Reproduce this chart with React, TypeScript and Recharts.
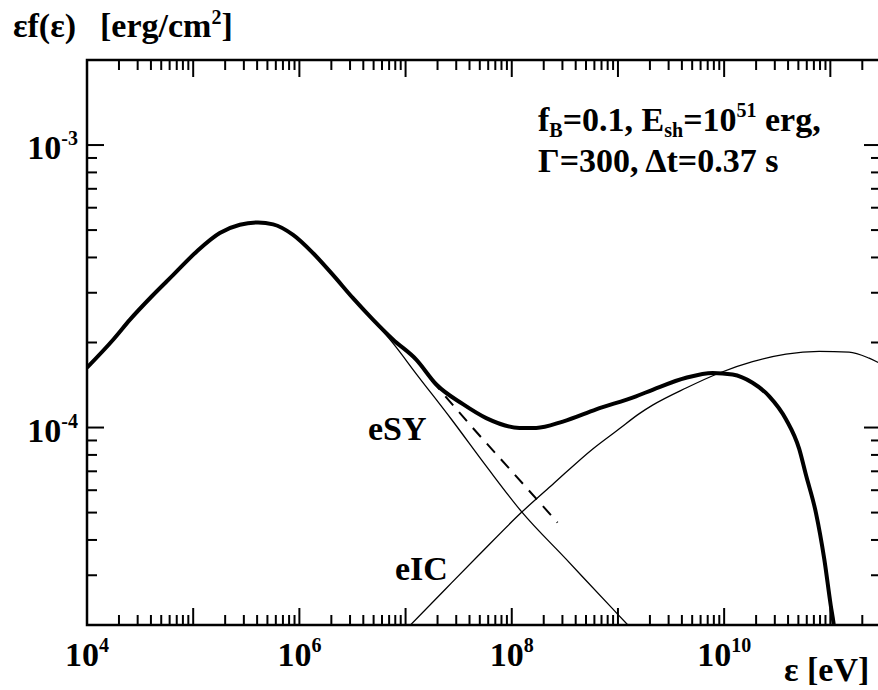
import { LineChart, Line, XAxis, YAxis, ReferenceArea, ReferenceLine } from 'recharts';

// axis setup
const xDomain = [1e4, 3e11];
const yDomain = [2e-5, 2e-3];
const xDecadeExps = [4, 5, 6, 7, 8, 9, 10, 11];
const xLabelExps = [4, 6, 8, 10];
const yDecadeExps = [-5, -4, -3];
const yLabelExps = [-4, -3];
const tickMantissas = [1, 2, 3, 4, 5, 6, 7, 8, 9];

// total spectrum (thick)
const totalE = [
  1e4, 1.77e4, 2.54e4, 4.06e4, 6.49e4, 1.08e5, 1.78e5, 2.75e5, 4.08e5, 5.66e5,
  8.73e5, 1.35e6, 2.07e6, 3.2e6, 4.93e6, 7.6e6, 1.26e7, 1.95e7, 3.47e7, 5.75e7,
  1.18e8, 1.7e8, 3.03e8, 6.24e8, 1.48e9, 2.12e9, 4.38e9, 7.8e9, 1.2e10, 1.85e10,
  2.66e10, 3.82e10, 5.09e10, 5.89e10, 7.31e10, 8.77e10, 1.01e11, 1.07e11, 1.15e11,
];
const totalF = [
  1.63e-4, 2.05e-4, 2.41e-4, 2.91e-4, 3.47e-4, 4.2e-4, 4.88e-4, 5.22e-4, 5.32e-4, 5.24e-4,
  4.81e-4, 4.14e-4, 3.47e-4, 2.87e-4, 2.41e-4, 2.05e-4, 1.74e-4, 1.42e-4, 1.21e-4, 1.08e-4,
  9.97e-5, 9.97e-5, 1.05e-4, 1.16e-4, 1.29e-4, 1.36e-4, 1.5e-4, 1.56e-4, 1.54e-4, 1.44e-4,
  1.29e-4, 1.07e-4, 8.4e-5, 6.8e-5, 5.0e-5, 3.42e-5, 2.34e-5, 2.04e-5, 1.6e-5,
];

// electron synchrotron
const esyE = [3.2e6, 4.93e6, 7.6e6, 1.26e7, 2.7e7, 5.75e7, 1.23e8, 3.25e8, 8.93e8, 1.24e9, 1.6e9];
const esyF = [2.87e-4, 2.4e-4, 1.99e-4, 1.55e-4, 1.07e-4, 7.3e-5, 5.05e-5, 3.42e-5, 2.28e-5, 2.0e-5, 1.81e-5];

// electron inverse Compton
const eicE = [
  1e7, 2.42e7, 4.98e7, 1.23e8, 2.44e8, 5.79e8, 1.03e9, 1.59e9, 2.12e9, 4.38e9,
  9.02e9, 1.85e10, 3.82e10, 7.85e10, 1.5e11, 2.32e11, 3e11,
];
const eicF = [
  1.92e-5, 2.7e-5, 3.56e-5, 5.0e-5, 6.3e-5, 8.4e-5, 9.9e-5, 1.12e-4, 1.2e-4, 1.38e-4,
  1.56e-4, 1.71e-4, 1.82e-4, 1.86e-4, 1.85e-4, 1.76e-4, 1.68e-4,
];

// dashed
const dashE = [1.76e7, 3.98e7, 1e8, 2.7e8];
const dashF = [1.47e-4, 1.03e-4, 7.0e-5, 4.61e-5];

const toData = (xs: number[], ys: number[]) => xs.map((x, i) => ({ x, y: ys[i] }));

const within = (v: number, d: number[]) => v >= d[0] * 0.999 && v <= d[1] * 1.001;
const xTicks = xDecadeExps.flatMap((e) => tickMantissas.map((m) => m * 10 ** e)).filter((v) => within(v, xDomain));
const yTicks = yDecadeExps.flatMap((e) => tickMantissas.map((m) => m * 10 ** e)).filter((v) => within(v, yDomain));

const expOf = (v: number) => Math.round(Math.log10(v));
const isMajor = (v: number) => Math.abs(Math.log10(v) - expOf(v)) < 1e-6;

const FONT = "'Liberation Serif', 'Times New Roman', serif";
const MAJ = 17;
const MIN = 10;

// chart geometry
const W = 884;
const H = 690;
const M = { top: 60, right: 3, bottom: 0, left: 0 };
const X_AXIS_H = 65;
const Y_AXIS_W = 87;
const PLOT_W = W - M.left - M.right - Y_AXIS_W;
const PLOT_H = H - M.top - M.bottom - X_AXIS_H;

// x value that sits `px` pixels inside either edge of the log x axis
const xSpan = xDomain[1] / xDomain[0];
const xFromLeft = (px: number) => xDomain[0] * xSpan ** (px / PLOT_W);
const xFromRight = (px: number) => xDomain[1] / xSpan ** (px / PLOT_W);

// bottom ticks + matching top ticks
const XTick = (props: any) => {
  const { x, y, payload } = props;
  const v = payload.value;
  const len = isMajor(v) ? MAJ : MIN;
  const e = expOf(v);
  const top = y - PLOT_H;
  return (
    <g>
      <line x1={x} y1={y} x2={x} y2={y - len} stroke="#000" strokeWidth={2} />
      <line x1={x} y1={top} x2={x} y2={top + len} stroke="#000" strokeWidth={2} />
      {isMajor(v) && xLabelExps.includes(e) && (
        <text x={x} y={y + 41} textAnchor="middle" fontFamily={FONT} fontWeight="bold" fontSize={34} fill="#000" stroke="none">
          10<tspan fontSize={20} dy={-14}>{e}</tspan>
        </text>
      )}
    </g>
  );
};

// y labels only (marks are reference segments)
const YLabel = (props: any) => {
  const { x, y, payload } = props;
  const v = payload.value;
  const e = expOf(v);
  if (!isMajor(v) || !yLabelExps.includes(e)) return <g />;
  return (
    <text x={x - 9} y={y + 14} textAnchor="end" fontFamily={FONT} fontWeight="bold" fontSize={34} fill="#000" stroke="none">
      10<tspan fontSize={20} dy={-14}>{e}</tspan>
    </text>
  );
};

export default function App() {
  return (
    <div style={{ position: 'absolute', left: 0, top: 0, width: 878, height: 690, overflow: 'hidden', background: '#fff' }}>
      <LineChart width={W} height={H} margin={M}>
        <XAxis
          type="number"
          dataKey="x"
          scale="log"
          domain={xDomain}
          allowDataOverflow
          ticks={xTicks}
          interval={0}
          tick={<XTick />}
          tickLine={false}
          tickSize={0}
          tickMargin={0}
          height={X_AXIS_H}
          axisLine={false}
        />
        <YAxis
          type="number"
          dataKey="y"
          scale="log"
          domain={yDomain}
          allowDataOverflow
          ticks={yTicks}
          interval={0}
          tick={<YLabel />}
          tickLine={false}
          tickSize={0}
          tickMargin={0}
          width={Y_AXIS_W}
          axisLine={false}
        />
        {yTicks.map((v) => {
          const len = isMajor(v) ? MAJ : MIN;
          return [
            <ReferenceLine
              key={`l${v}`}
              segment={[{ x: xDomain[0], y: v }, { x: xFromLeft(len), y: v }]}
              stroke="#000"
              strokeWidth={2}
              strokeOpacity={1}
              ifOverflow="visible"
            />,
            <ReferenceLine
              key={`r${v}`}
              segment={[{ x: xFromRight(len), y: v }, { x: xDomain[1], y: v }]}
              stroke="#000"
              strokeWidth={2}
              strokeOpacity={1}
              ifOverflow="visible"
            />,
          ];
        })}
        <ReferenceArea
          x1={xDomain[0]}
          x2={xDomain[1]}
          y1={yDomain[0]}
          y2={yDomain[1]}
          fill="none"
          fillOpacity={0}
          stroke="#000"
          strokeWidth={2.5}
          strokeOpacity={1}
        />
        <Line data={toData(esyE, esyF)} dataKey="y" type="monotone" stroke="#000" strokeWidth={1.3} dot={false} isAnimationActive={false} />
        <Line data={toData(eicE, eicF)} dataKey="y" type="monotone" stroke="#000" strokeWidth={1.3} dot={false} isAnimationActive={false} />
        <Line data={toData(dashE, dashF)} dataKey="y" type="monotone" stroke="#000" strokeWidth={2} strokeDasharray="12 9" dot={false} isAnimationActive={false} />
        <Line data={toData(totalE, totalF)} dataKey="y" type="monotone" stroke="#000" strokeWidth={4} dot={false} isAnimationActive={false} />
      </LineChart>
      <svg
        width={878}
        height={690}
        style={{ position: 'absolute', left: 0, top: 0, pointerEvents: 'none', whiteSpace: 'pre' }}
        fontFamily={FONT}
        fontWeight="bold"
        fontSize={34}
        fill="#000"
      >
        <text x={13} y={37}>εf(ε)</text>
        <text x={100} y={37}>
          [erg/cm<tspan fontSize={20} dy={-13}>2</tspan>
          <tspan dy={13}>]</tspan>
        </text>
        <text x={538} y={131}>
          f<tspan fontSize={20} dy={6}>B</tspan>
          <tspan dy={-6}>=0.1, E</tspan>
          <tspan fontSize={20} dy={6}>sh</tspan>
          <tspan dy={-6}>=10</tspan>
          <tspan fontSize={20} dy={-14}>51</tspan>
          <tspan dy={14}> erg,</tspan>
        </text>
        <text x={538} y={172}>Γ=300, Δt=0.37 s</text>
        <text x={368} y={440}>eSY</text>
        <text x={395} y={580}>eIC</text>
        <text x={784} y={681}>ε [eV]</text>
      </svg>
    </div>
  );
}
